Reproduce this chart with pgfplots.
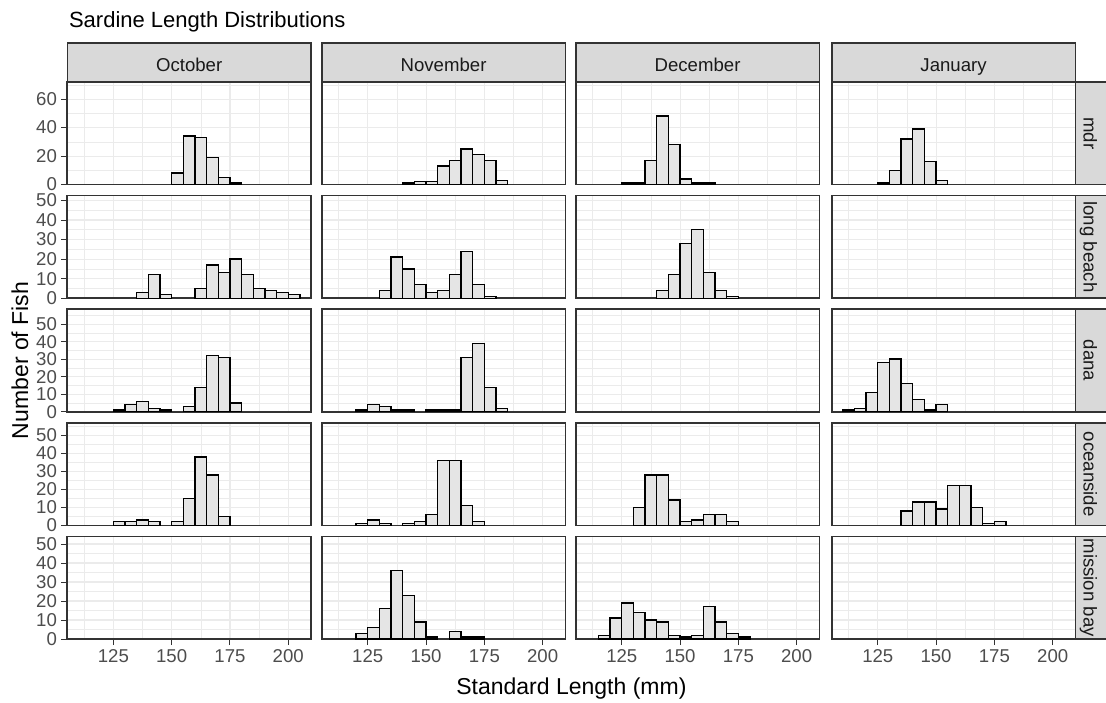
\documentclass[border=0pt]{standalone}
\usepackage{fontspec}
\setmainfont{Liberation Sans}
\usepackage{pgfplots}
\pgfplotsset{compat=1.18}
\definecolor{tickc}{HTML}{4D4D4D}
\definecolor{bordc}{HTML}{333333}
\definecolor{gridc}{HTML}{EBEBEB}
\definecolor{stripc}{HTML}{D9D9D9}
\definecolor{barc}{HTML}{E5E5E5}
\definecolor{stript}{HTML}{1A1A1A}
\pgfplotsset{
  panel/.style={
    scale only axis, width=121.85pt, height=51.3pt, anchor=north west,
    xmin=105.25, xmax=209.75, ymin=0,
    xtick={125,150,175,200}, minor xtick={112.5,137.5,162.5,187.5},
    xmajorgrids, ymajorgrids, xminorgrids, yminorgrids,
    major grid style={draw=gridc, line width=0.55pt},
    minor grid style={draw=gridc, line width=0.3pt},
    axis line style={draw=bordc, line width=0.8pt},
    major tick style={draw=bordc, line width=0.5pt},
    minor tick style={draw=none},
    major tick length=3pt, tick align=outside,
    xtick pos=bottom, ytick pos=left,
    ticklabel style={font=\fontsize{9.3}{10}\selectfont, text=tickc, inner sep=2pt},
    /pgf/number format/assume math mode=true,
  },
  r1/.style={ymax=72, ytick={0,20,40,60}, minor ytick={10,30,50,70}},
  rr/.style={ymax=#1, ytick={0,10,20,30,40,50}, minor ytick={5,15,25,35,45,55}},
  nox/.style={xticklabels={}, xmajorticks=false},
  noy/.style={yticklabels={}, ymajorticks=false},
  hist/.style={ybar, bar width=5, bar shift=0pt, fill=barc, draw=black, line width=0.7pt},
}
\newcommand\panelplot[4]{%
  \begin{axis}[panel, at={(#1,#2)}, #3]
  \if\relax\detokenize{#4}\relax\else\addplot[hist] coordinates {#4};\fi
  \end{axis}}
\newcommand\topstrip[2]{%
  \draw[fill=stripc, draw=bordc, line width=0.8pt] (#1,310pt) rectangle ++(121.85pt,19.5pt);
  \node[anchor=base, font=\fontsize{9.3}{11}\selectfont, text=stript] at ($(#1,315.3pt)+(60.925pt,0)$) {#2};}
\newcommand\sidestrip[3]{%
  \draw[fill=stripc, draw=bordc, line width=0.8pt] (537.7pt,#1) rectangle (558pt,#2);
  \node[anchor=base, rotate=-90, font=\fontsize{9.3}{11}\selectfont, text=stript] at ($(541.8pt,#1)!0.5!(541.8pt,#2)$) {#3};}
\usetikzlibrary{calc}
\begin{document}
\begin{tikzpicture}
\path[use as bounding box] (0,0) rectangle (553pt,351pt);
% ---------- row 1: mdr
\panelplot{33.65pt}{310pt}{r1,nox}{(152.5,8)(157.5,34)(162.5,33)(167.5,19)(172.5,5)(177.5,1)}
\panelplot{160.85pt}{310pt}{r1,nox,noy}{(142.5,1)(147.5,2)(152.5,2)(157.5,13)(162.5,17)(167.5,25)(172.5,21)(177.5,17)(182.5,3)}
\panelplot{287.85pt}{310pt}{r1,nox,noy}{(127.5,1)(132.5,1)(137.5,17)(142.5,48)(147.5,28)(152.5,4)(157.5,1)(162.5,1)}
\panelplot{415.85pt}{310pt}{r1,nox,noy}{(127.5,1)(132.5,10)(137.5,32)(142.5,39)(147.5,16)(152.5,3)}
% ---------- row 2: long beach
\panelplot{33.65pt}{253.2pt}{rr=52.5,nox}{(137.5,3)(142.5,12)(147.5,2)(162.5,5)(167.5,17)(172.5,13)(177.5,20)(182.5,12)(187.5,5)(192.5,4)(197.5,3)(202.5,2)}
\panelplot{160.85pt}{253.2pt}{rr=52.5,nox,noy}{(132.5,4)(137.5,21)(142.5,15)(147.5,7)(152.5,3)(157.5,4)(162.5,12)(167.5,24)(172.5,7)(177.5,1)}
\panelplot{287.85pt}{253.2pt}{rr=52.5,nox,noy}{(142.5,4)(147.5,12)(152.5,28)(157.5,35)(162.5,13)(167.5,4)(172.5,1)}
\panelplot{415.85pt}{253.2pt}{rr=52.5,nox,noy}{}
% ---------- row 3: dana
\panelplot{33.65pt}{196.4pt}{rr=58.5,nox}{(127.5,1)(132.5,4)(137.5,6)(142.5,2)(147.5,1)(157.5,3)(162.5,14)(167.5,32)(172.5,31)(177.5,5)}
\panelplot{160.85pt}{196.4pt}{rr=58.5,nox,noy}{(122.5,1)(127.5,4)(132.5,3)(137.5,1)(142.5,1)(152.5,1)(157.5,1)(162.5,1)(167.5,31)(172.5,39)(177.5,14)(182.5,2)}
\panelplot{287.85pt}{196.4pt}{rr=58.5,nox,noy}{}
\panelplot{415.85pt}{196.4pt}{rr=58.5,nox,noy}{(112.5,1)(117.5,2)(122.5,11)(127.5,28)(132.5,30)(137.5,16)(142.5,7)(147.5,1)(152.5,4)}
% ---------- row 4: oceanside
\panelplot{33.65pt}{139.6pt}{rr=57,nox}{(127.5,2)(132.5,2)(137.5,3)(142.5,2)(152.5,2)(157.5,15)(162.5,38)(167.5,28)(172.5,5)}
\panelplot{160.85pt}{139.6pt}{rr=57,nox,noy}{(122.5,1)(127.5,3)(132.5,1)(142.5,1)(147.5,2)(152.5,6)(157.5,36)(162.5,36)(167.5,11)(172.5,2)}
\panelplot{287.85pt}{139.6pt}{rr=57,nox,noy}{(132.5,10)(137.5,28)(142.5,28)(147.5,14)(152.5,2)(157.5,3)(162.5,6)(167.5,6)(172.5,2)}
\panelplot{415.85pt}{139.6pt}{rr=57,nox,noy}{(137.5,8)(142.5,13)(147.5,13)(152.5,9)(157.5,22)(162.5,22)(167.5,10)(172.5,1)(177.5,2)}
% ---------- row 5: mission bay
\panelplot{33.65pt}{82.8pt}{rr=54}{}
\panelplot{160.85pt}{82.8pt}{rr=54,noy}{(122.5,3)(127.5,6)(132.5,16)(137.5,36)(142.5,23)(147.5,9)(152.5,1)(162.5,4)(167.5,1)(172.5,1)}
\panelplot{287.85pt}{82.8pt}{rr=54,noy}{(117.5,2)(122.5,11)(127.5,19)(132.5,14)(137.5,10)(142.5,9)(147.5,2)(152.5,1)(157.5,2)(162.5,17)(167.5,9)(172.5,3)(177.5,1)}
\panelplot{415.85pt}{82.8pt}{rr=54,noy}{}
% ---------- strips
\topstrip{33.65pt}{October}
\topstrip{160.85pt}{November}
\topstrip{287.85pt}{December}
\topstrip{415.85pt}{January}
\sidestrip{310pt}{258.7pt}{mdr}
\sidestrip{253.2pt}{201.9pt}{long beach}
\sidestrip{196.4pt}{145.1pt}{dana}
\sidestrip{139.6pt}{88.3pt}{oceanside}
\sidestrip{82.8pt}{31.5pt}{mission bay}
% ---------- titles
\node[anchor=base west, font=\fontsize{11}{13}\selectfont] at (31pt,337pt) {Sardine Length Distributions};
\node[anchor=base, font=\fontsize{11.5}{13}\selectfont] at (285.7pt,4pt) {Standard Length (mm)};
\node[anchor=base, rotate=90, font=\fontsize{11.5}{13}\selectfont] at (14pt,170.75pt) {Number of Fish};
\end{tikzpicture}
\end{document}
